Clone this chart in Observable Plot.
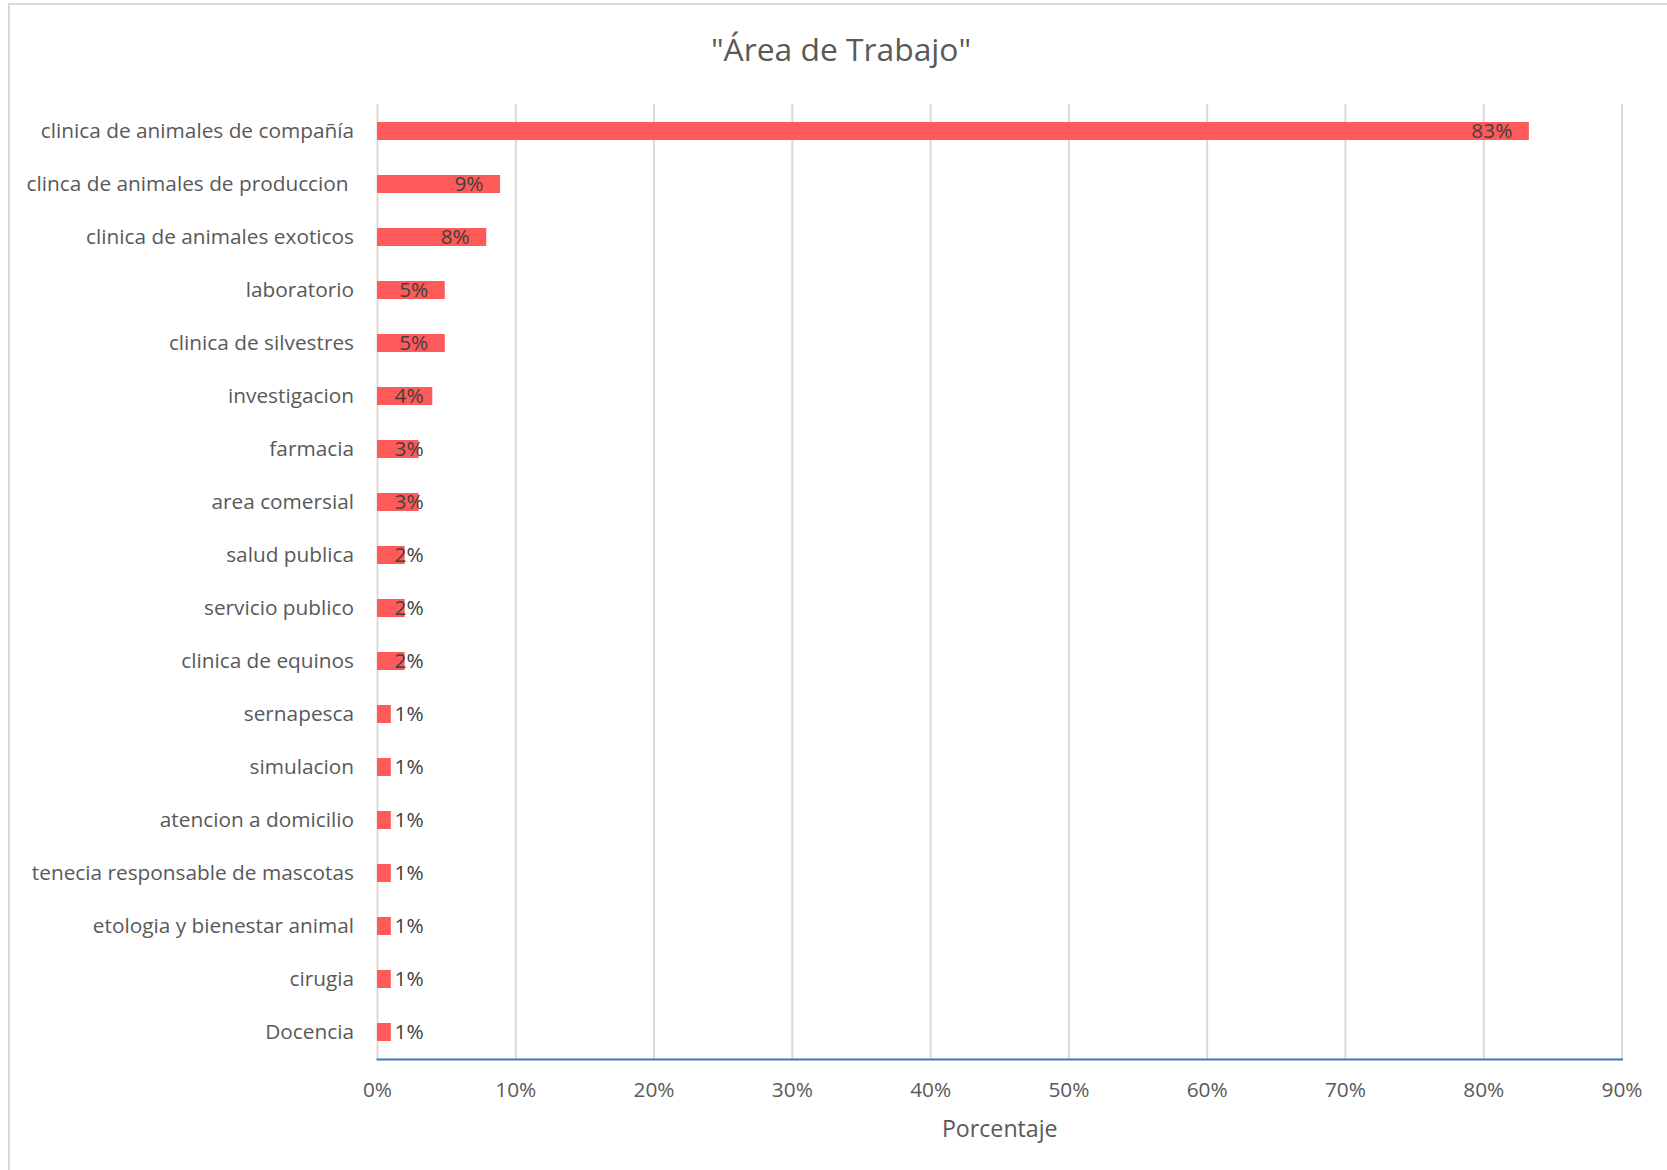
<!DOCTYPE html>
<html>
<head>
<meta charset="utf-8">
<script src="https://cdn.jsdelivr.net/npm/d3@7"></script>
<script src="https://cdn.jsdelivr.net/npm/@observablehq/plot@0.6"></script>
<style>
  html, body { margin: 0; padding: 0; background: #ffffff; }
  #chart { position: relative; width: 1667px; height: 1170px; overflow: hidden; background: #fff; font-family: "Open Sans", sans-serif; }
  #border { position: absolute; left: 8px; top: 3px; width: 2000px; height: 2000px; border-top: 2px solid #d9d9d9; border-left: 2px solid #d9d9d9; box-sizing: border-box; }
  #title { position: absolute; left: 841px; top: 33px; transform: translateX(-50%); font-size: 31.8px; line-height: 1; color: #595959; white-space: nowrap; }
  #plot { position: absolute; left: 0; top: 80px; }
  #plot svg { color: #595959; }
</style>
</head>
<body>
<div id="chart">
  <div id="border"></div>
  <div id="title">"Área de Trabajo"</div>
  <div id="plot"></div>
</div>
<script>
const categories = [
  "clinica de animales de compañía",
  "clinca de animales de produccion\u00a0",
  "clinica de animales exoticos",
  "laboratorio",
  "clinica de silvestres",
  "investigacion",
  "farmacia",
  "area comersial",
  "salud publica",
  "servicio publico",
  "clinica de equinos",
  "sernapesca",
  "simulacion",
  "atencion a domicilio",
  "tenecia responsable de mascotas",
  "etologia y bienestar animal",
  "cirugia",
  "Docencia"
];
const values = [83.3, 8.9, 7.9, 4.9, 4.9, 4.0, 3.0, 3.0, 2.0, 2.0, 2.0, 1.0, 1.0, 1.0, 1.0, 1.0, 1.0, 1.0];
const labels = ["83%", "9%", "8%", "5%", "5%", "4%", "3%", "3%", "2%", "2%", "2%", "1%", "1%", "1%", "1%", "1%", "1%", "1%"];
const xTicks = [0, 10, 20, 30, 40, 50, 60, 70, 80, 90];
const xLabel = "Porcentaje";

const data = categories.map((c, i) => ({category: c, value: values[i], label: labels[i]}));
const inside = data.filter(d => d.value >= 4.5);
const outside = data.filter(d => d.value < 4.5);

const plot = Plot.plot({
  width: 1667,
  height: 1090,
  marginTop: 24,
  marginBottom: 111,
  marginLeft: 377,
  marginRight: 45.5,
  style: {fontFamily: "'Open Sans', sans-serif", fontSize: "20.8px", color: "#595959", background: "transparent"},
  x: {domain: [0, 90]},
  y: {domain: categories, paddingInner: 0.66, paddingOuter: 0.33, align: 0.5},
  marks: [
    Plot.gridX(xTicks, {stroke: "#d9d9d9", strokeOpacity: 1, strokeWidth: 2}),
    Plot.barX(data, {x: "value", y: "category", fill: "#ff5a5a"}),
    Plot.text(inside, {x: "value", y: "category", text: "label", textAnchor: "end", dx: -17, fill: "#404040", fontSize: 20.8}),
    Plot.text(outside, {x: () => 0, y: "category", text: "label", textAnchor: "start", dx: 17, fill: "#404040", fontSize: 20.8}),
    Plot.frame({anchor: "bottom", stroke: "#4472c4", strokeWidth: 2}),
    Plot.axisY({tickSize: 0, tickPadding: 23.5, label: null, fontSize: 20.8}),
    Plot.axisX({ticks: xTicks, tickFormat: d => d + "%", tickSize: 0, tickPadding: 23, label: null, fontSize: 20.8}),
    Plot.text([xLabel], {text: d => d, frameAnchor: "bottom", dy: 77.5, fontSize: 23.2, fill: "#595959"})
  ]
});
document.getElementById("plot").appendChild(plot);
</script>
</body>
</html>
